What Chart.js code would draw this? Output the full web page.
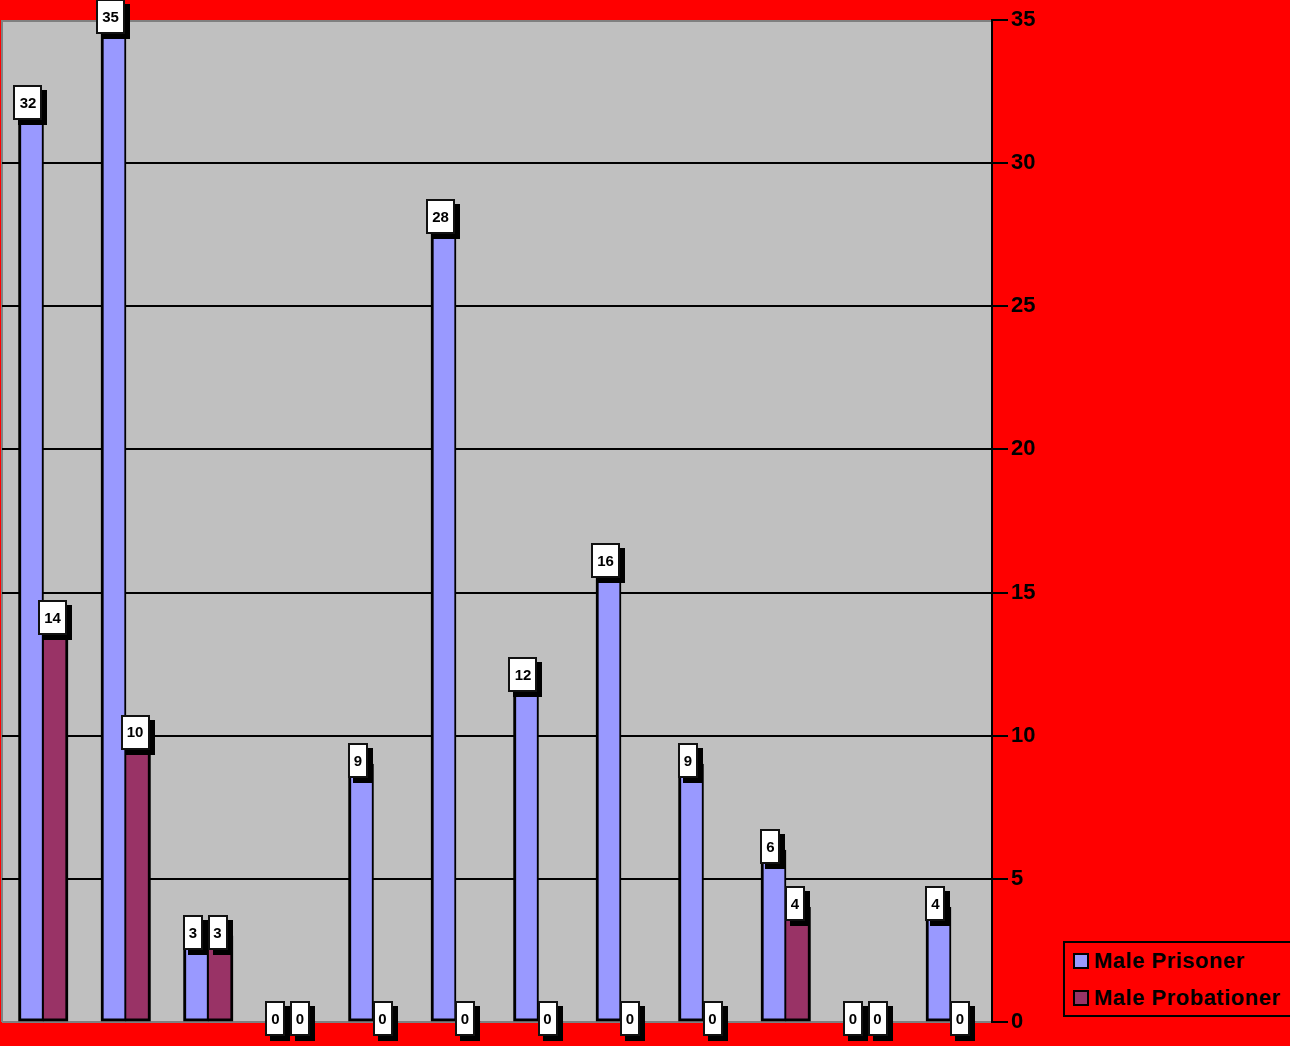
<!DOCTYPE html>
<html>
<head>
<meta charset="utf-8">
<script src="https://cdn.jsdelivr.net/npm/chart.js@4/dist/chart.umd.min.js"></script>
<style>
  html, body { margin: 0; padding: 0; background: #FF0000; overflow: hidden; }
  #wrap { position: relative; width: 1290px; height: 1046px; }
  #chart { display: block; }
  #legend {
    position: absolute; left: 1063px; top: 941px; width: 240px; height: 72px;
    border: 2px solid #000; background: #FF0000; box-sizing: content-box;
    font: bold 22px "Liberation Sans", Arial, sans-serif; color: #000;
    letter-spacing: 0.5px;
  }
  .item { position: absolute; left: 8px; height: 24px; line-height: 24px; white-space: nowrap; }
  .item .sw { position: absolute; left: 0; top: 0px; width: 12px; height: 12px; border: 2px solid #000; }
  .item .tx { position: absolute; left: 21px; top: -4px; }
</style>
</head>
<body>
<div id="wrap">
  <canvas id="chart" width="1290" height="1046"></canvas>
  <div id="legend"></div>
</div>
<script>
// Twelve groups, unlabelled along the bottom
const categories = ['1','2','3','4','5','6','7','8','9','10','11','12'];
const seriesNames = ['Male Prisoner', 'Male Probationer'];
const malePrisoner    = [32, 35, 3, 0, 9, 28, 12, 16, 9, 6, 0, 4];
const maleProbationer = [14, 10, 3, 0, 0, 0, 0, 0, 0, 4, 0, 0];
const yTicks = [0, 5, 10, 15, 20, 25, 30, 35];

const colors = ['#9999FF', '#993366'];
const FONT = '"Liberation Sans", Arial, sans-serif';

// Plot area fill and its grey frame
const plotBackground = {
  id: 'plotBackground',
  beforeDraw(chart) {
    const { ctx, chartArea: a } = chart;
    ctx.save();
    ctx.fillStyle = '#C0C0C0';
    ctx.fillRect(a.left, a.top, a.right - a.left, a.bottom - a.top);
    ctx.strokeStyle = '#808080';
    ctx.lineWidth = 2;
    ctx.beginPath();
    ctx.moveTo(a.left, a.bottom);
    ctx.lineTo(a.left, a.top + 1);
    ctx.lineTo(a.right, a.top + 1);
    ctx.moveTo(a.left, a.bottom);
    ctx.lineTo(a.right, a.bottom);
    ctx.stroke();
    ctx.restore();
  }
};

// Value tags: white boxes with a hard black drop shadow
const valueTags = {
  id: 'valueTags',
  afterDatasetsDraw(chart) {
    const { ctx } = chart;
    ctx.save();
    ctx.font = 'bold 15px ' + FONT;
    ctx.textAlign = 'center';
    ctx.textBaseline = 'middle';
    chart.data.datasets.forEach((ds, di) => {
      const meta = chart.getDatasetMeta(di);
      meta.data.forEach((el, i) => {
        const text = String(ds.data[i]);
        const w = Math.round(ctx.measureText(text).width + 12);
        const h = 35;
        const cx = el.x - 3;
        const cy = el.y - 3.5;
        const x = Math.round(cx - w / 2), y = Math.round(cy - h / 2);
        ctx.fillStyle = '#000';
        ctx.fillRect(x + 5, y + 5, w, h);
        ctx.fillStyle = '#FFFFFF';
        ctx.fillRect(x, y, w, h);
        ctx.strokeStyle = '#111';
        ctx.lineWidth = 2;
        ctx.strokeRect(x + 1, y + 1, w - 2, h - 2);
        ctx.fillStyle = '#000';
        ctx.fillText(text, cx, cy + 1);
      });
    });
    ctx.restore();
  }
};

function barBorder(side) {
  return (c) => {
    if (c.raw === 0) return 0;
    return side === 0
      ? { top: 3, left: 3, right: 2, bottom: 3 }
      : { top: 3, left: 1, right: 3, bottom: 3 };
  };
}

new Chart(document.getElementById('chart'), {
  type: 'bar',
  data: {
    labels: categories,
    datasets: [
      { label: seriesNames[0], data: malePrisoner, backgroundColor: colors[0],
        borderColor: '#000', borderWidth: barBorder(0), borderSkipped: false, inflateAmount: 0.6 },
      { label: seriesNames[1], data: maleProbationer, backgroundColor: colors[1],
        borderColor: '#000', borderWidth: barBorder(1), borderSkipped: false, inflateAmount: 0.6 }
    ]
  },
  options: {
    responsive: false,
    animation: false,
    layout: { padding: { top: 20, left: 2, bottom: 24, right: 0 } },
    datasets: { bar: { categoryPercentage: 0.594, barPercentage: 1.0 } },
    plugins: { legend: { display: false }, tooltip: { enabled: false } },
    scales: {
      x: { display: false, offset: true, grid: { display: false } },
      y: {
        position: 'right',
        min: 0, max: 35,
        afterBuildTicks(scale) { scale.ticks = yTicks.map(v => ({ value: v })); },
        afterFit(scale) { scale.width = 298; },
        border: { display: true, color: '#000', width: 2 },
        grid: {
          drawOnChartArea: true,
          drawTicks: true,
          tickLength: 16,
          lineWidth: 2,
          tickWidth: 2,
          tickColor: '#000',
          color: (c) => (c.tick && (c.tick.value === 0 || c.tick.value === 35)) ? 'rgba(0,0,0,0)' : '#000'
        },
        ticks: {
          padding: 3,
          color: '#000',
          font: { family: FONT, size: 22, weight: 'bold' },
          callback: (v) => String(v)
        }
      }
    }
  },
  plugins: [plotBackground, valueTags]
});

// Legend built from the same series names and colours
const legend = document.getElementById('legend');
seriesNames.forEach((name, i) => {
  const item = document.createElement('div');
  item.className = 'item';
  item.style.top = (10 + i * 37) + 'px';
  const sw = document.createElement('span');
  sw.className = 'sw';
  sw.style.background = colors[i];
  const tx = document.createElement('span');
  tx.className = 'tx';
  tx.textContent = name;
  item.appendChild(sw);
  item.appendChild(tx);
  legend.appendChild(item);
});
</script>
</body>
</html>
